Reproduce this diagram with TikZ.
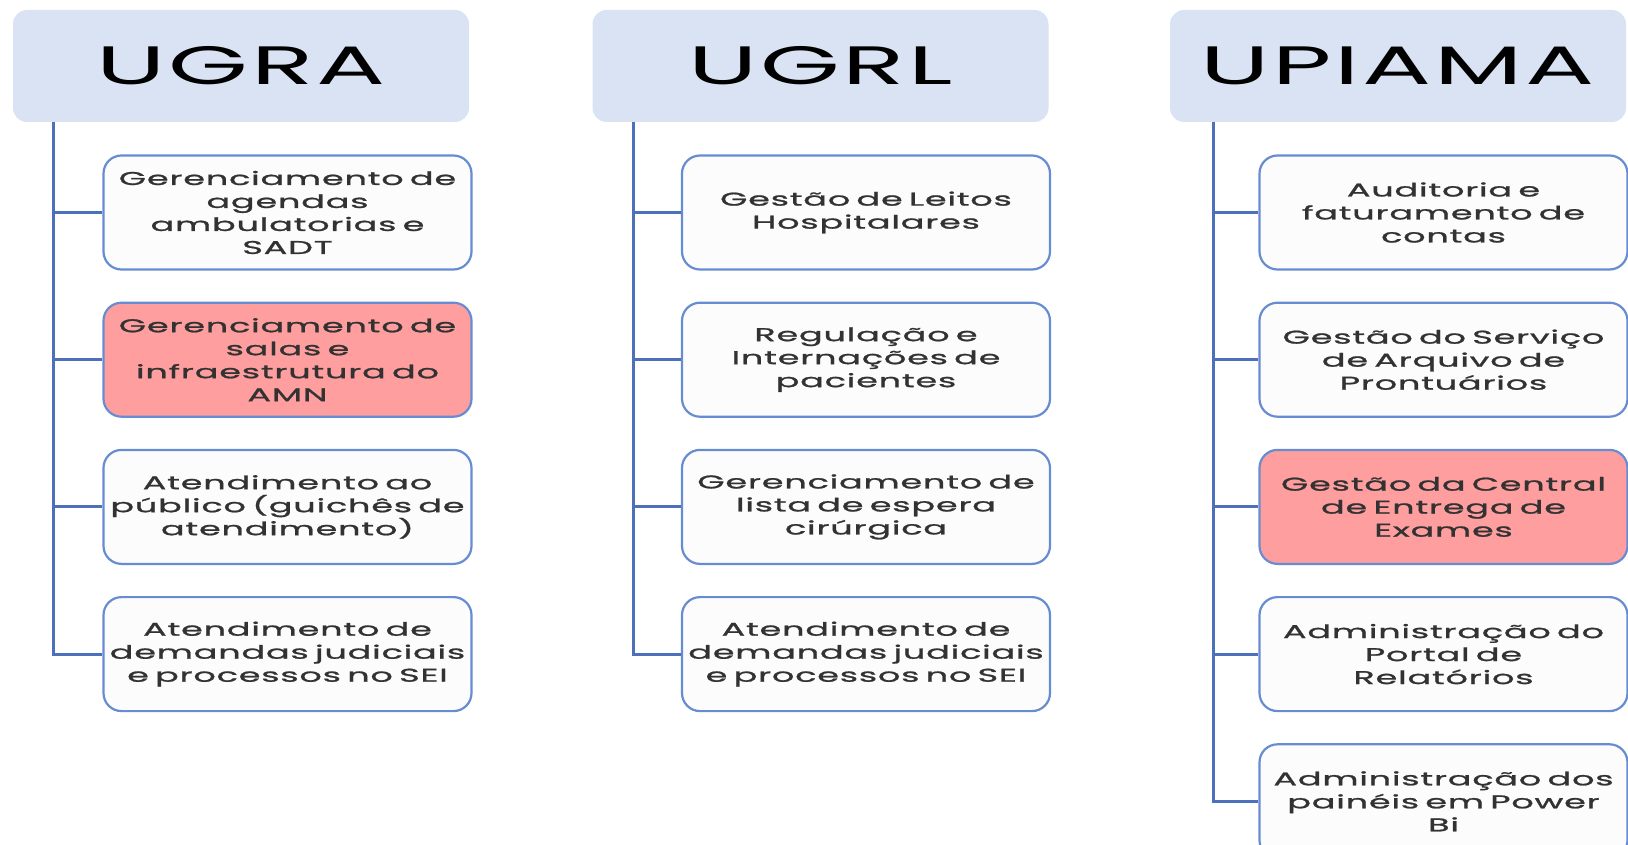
\documentclass[tikz,border=0pt]{standalone}
\usepackage{fontspec}
\setmainfont{Poppins}
\newfontfamily\headfont{Poppins}[FakeStretch=1.9, LetterSpace=5]
\newfontfamily\boxfont{Poppins}[FakeStretch=1.9, LetterSpace=4, FakeBold=1.2]
\usetikzlibrary{positioning}

\definecolor{headfill}{RGB}{218,227,243}
\definecolor{treeline}{RGB}{76,112,186}
\definecolor{boxline}{RGB}{104,140,210}
\definecolor{boxfill}{RGB}{252,252,252}
\definecolor{hlfill}{RGB}{255,158,158}
\definecolor{boxtext}{RGB}{50,50,50}

\begin{document}
\begin{tikzpicture}[
  x=1pt, y=-1pt,
  head/.style={rectangle, rounded corners=14pt, fill=headfill, minimum width=456pt, minimum height=112pt, font=\headfont\fontsize{54}{60}\selectfont},
  box/.style={rectangle, draw=boxline, line width=2.2pt, rounded corners=18pt, fill=boxfill, align=center, text width=364pt, minimum height=114pt, inner sep=2pt, text=boxtext, font=\boxfont\fontsize{18.5}{23}\selectfont},
  hl/.style={box, fill=hlfill},
  tree/.style={draw=treeline, line width=3pt},
]
\useasboundingbox (0,0) rectangle (1628,845);

% === UGRA ===
\node[head] (ugra) at (241,66) {UGRA};
\coordinate (va) at (53,122);
\node[box] (a1) at (287.5,212.5) {Gerenciamento de\\agendas\\ambulatorias e\\SADT};
\node[hl, below=31pt of a1] (a2) {Gerenciamento de\\salas e\\infraestrutura do\\AMN};
\node[box, below=31pt of a2] (a3) {Atendimento ao\\público (guichês de\\atendimento)};
\node[box, below=31pt of a3] (a4) {Atendimento de\\demandas judiciais\\e processos no SEI};

% === UGRL ===
\node[head] (ugrl) at (820.5,66) {UGRL};
\coordinate (vb) at (633,122);
\node[box] (b1) at (866,212.5) {Gestão de Leitos\\Hospitalares};
\node[box, below=31pt of b1] (b2) {Regulação e\\Internações de\\pacientes};
\node[box, below=31pt of b2] (b3) {Gerenciamento de\\lista de espera\\cirúrgica};
\node[box, below=31pt of b3] (b4) {Atendimento de\\demandas judiciais\\e processos no SEI};

% === UPIAMA ===
\node[head] (upiama) at (1398,66) {UPIAMA};
\coordinate (vc) at (1213,122);
\node[box] (c1) at (1443.5,212.5) {Auditoria e\\faturamento de\\contas};
\node[box, below=31pt of c1] (c2) {Gestão do Serviço\\de Arquivo de\\Prontuários};
\node[hl, below=31pt of c2] (c3) {Gestão da Central\\de Entrega de\\Exames};
\node[box, below=31pt of c3] (c4) {Administração do\\Portal de\\Relatórios};
\node[box, below=31pt of c4] (c5) {Administração dos\\painéis em Power\\Bi};

% === Connectors ===
\foreach \n in {a1,a2,a3,a4} \draw[tree] (va) |- (\n.west);
\foreach \n in {b1,b2,b3,b4} \draw[tree] (vb) |- (\n.west);
\foreach \n in {c1,c2,c3,c4,c5} \draw[tree] (vc) |- (\n.west);

\end{tikzpicture}
\end{document}
